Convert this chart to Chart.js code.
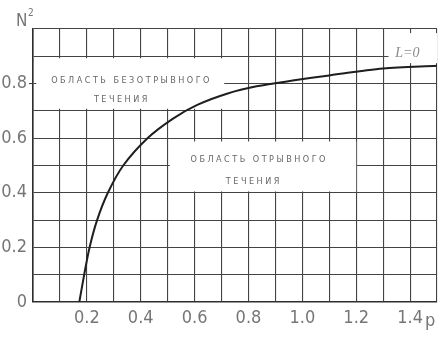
<!DOCTYPE html>
<html><head><meta charset="utf-8">
<script src="https://cdn.jsdelivr.net/npm/chart.js@4/dist/chart.umd.min.js"></script>
<style>html,body{margin:0;padding:0;background:#fff;}#wrap{width:443px;height:342px;}</style>
</head><body><div id="wrap"><canvas id="c" width="443" height="342"></canvas></div>
<script>
const pValues  = [0.172, 0.19, 0.21, 0.238, 0.278, 0.335, 0.425, 0.52, 0.61, 0.72, 0.83, 0.97, 1.1, 1.3, 1.5];
const n2Values = [0.0,   0.1,  0.2,  0.3,   0.4,   0.5,   0.6,   0.672, 0.722, 0.763, 0.79, 0.812, 0.83, 0.855, 0.865];
const xTickValues = [0.2, 0.4, 0.6, 0.8, 1.0, 1.2, 1.4];
const xTickLabels = ['0.2', '0.4', '0.6', '0.8', '1.0', '1.2', '1.4'];
const yTickValues = [0, 0.2, 0.4, 0.6, 0.8];
const yTickLabels = ['0', '0.2', '0.4', '0.6', '0.8'];
const curveLabel = 'L=0';
const regionAttached = ['ОБЛАСТЬ БЕЗОТРЫВНОГО', 'ТЕЧЕНИЯ'];
const regionSeparated = ['ОБЛАСТЬ ОТРЫВНОГО', 'ТЕЧЕНИЯ'];
const xAxisTitle = 'p';
const yAxisTitle = 'N';

const points = pValues.map((p, i) => ({x: p, y: n2Values[i]}));
const labelFor = (vals, labs, v) => { const i = vals.findIndex(t => Math.abs(t - v) < 1e-6); return i >= 0 ? labs[i] : ''; };

const GRID = '#444444';
const TXT = '#767676';
const NARROW = '"Liberation Sans Narrow", "DejaVu Sans Condensed", sans-serif';

const annot = {
  id: 'annot',
  beforeDatasetsDraw(chart) {
    const {ctx, scales: {x, y}} = chart;
    ctx.save();
    ctx.fillStyle = '#ffffff';
    const rect = (x0, x1, y0, y1) => {
      const l = x.getPixelForValue(x0), r = x.getPixelForValue(x1);
      const t = y.getPixelForValue(y1), b = y.getPixelForValue(y0);
      ctx.fillRect(l, t, r - l, b - t);
    };
    rect(0.012, 0.71, 0.708, 0.893);
    rect(0.508, 1.2, 0.405, 0.588);
    rect(1.32, 1.5, 0.875, 0.985);
    ctx.fillStyle = '#666666';
    ctx.textAlign = 'center';
    ctx.textBaseline = 'middle';
    ctx.font = '9px "DejaVu Sans Condensed", "DejaVu Sans"';
    ctx.letterSpacing = '2.5px';
    const txt = (s, px, py) => ctx.fillText(s, x.getPixelForValue(px), y.getPixelForValue(py));
    txt(regionAttached[0], 0.366, 0.81);
    txt(regionAttached[1], 0.33, 0.74);
    txt(regionSeparated[0], 0.84, 0.52);
    txt(regionSeparated[1], 0.82, 0.44);
    ctx.letterSpacing = '0px';
    ctx.font = 'italic 14px "Liberation Serif", serif';
    ctx.fillStyle = '#8a8a8a';
    txt(curveLabel, 1.39, 0.91);
    ctx.restore();
  },
  afterDraw(chart) {
    const {ctx, scales: {x}} = chart;
    ctx.save();
    ctx.fillStyle = TXT;
    ctx.textBaseline = 'middle';
    ctx.textAlign = 'left';
    ctx.font = '18px ' + NARROW;
    ctx.fillText(xAxisTitle, x.getPixelForValue(1.455), 321);
    ctx.font = '17px ' + NARROW;
    ctx.fillText(yAxisTitle, 16, 22);
    ctx.font = '10px ' + NARROW;
    ctx.fillText('2', 28, 13);
    ctx.restore();
  }
};

new Chart(document.getElementById('c'), {
  type: 'scatter',
  data: {datasets: [{
    data: points,
    showLine: true,
    borderColor: '#1e1e1e',
    borderWidth: 2,
    pointRadius: 0,
    tension: 0.3,
    fill: false
  }]},
  options: {
    responsive: false,
    devicePixelRatio: 1,
    animation: false,
    layout: {padding: {top: 29, right: 1, left: 0, bottom: 0}},
    plugins: {legend: {display: false}, tooltip: {enabled: false}},
    scales: {
      x: {
        type: 'linear', min: 0, max: 1.5,
        afterFit(s) { s.height = 40; },
        ticks: {
          stepSize: 0.1, autoSkip: false, maxRotation: 0, padding: 6,
          color: TXT, font: {family: NARROW, size: 18},
          callback: v => labelFor(xTickValues, xTickLabels, v)
        },
        grid: {color: GRID, lineWidth: 1.1, drawTicks: false},
        border: {color: '#2e2e2e', width: 1.6}
      },
      y: {
        type: 'linear', min: 0, max: 1.0,
        afterFit(s) { s.width = 33; },
        ticks: {
          stepSize: 0.1, autoSkip: false, padding: 2,
          color: TXT, font: {family: NARROW, size: 18},
          callback: v => labelFor(yTickValues, yTickLabels, v)
        },
        grid: {
          color: GRID, lineWidth: 1.1, drawTicks: true, tickLength: 4,
          tickColor: c => labelFor(yTickValues, yTickLabels, c.tick ? c.tick.value : -1) === '0.8' ? GRID : 'rgba(0,0,0,0)'
        },
        border: {color: '#2e2e2e', width: 1.6}
      }
    }
  },
  plugins: [annot]
});
</script>
</body></html>
